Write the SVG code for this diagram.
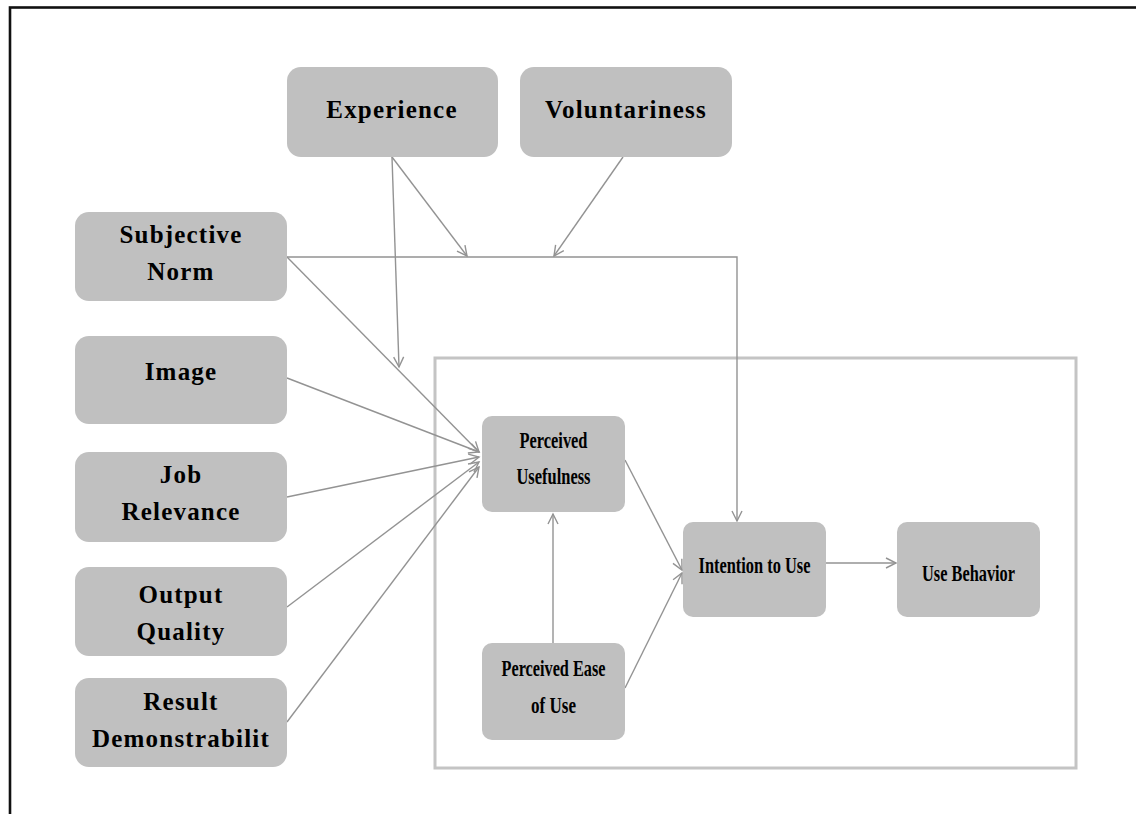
<svg xmlns="http://www.w3.org/2000/svg" width="1136" height="814" viewBox="0 0 1136 814">
<style>
.node rect{fill:#c0c0c0;stroke:none}
.big{font-family:"Liberation Serif","Times New Roman",serif;font-weight:bold;font-size:25px;letter-spacing:1.2px;fill:#000;text-anchor:middle}
.small{font-family:"Liberation Serif","Times New Roman",serif;font-weight:bold;font-size:24px;fill:#000;text-anchor:middle}
.conn path{fill:none;stroke:#939393;stroke-width:1.4}
</style>
<defs>
<marker id="arr" markerUnits="userSpaceOnUse" markerWidth="14" markerHeight="14" refX="11" refY="6" orient="auto">
<path d="M1,1 L11,6 L1,11" fill="none" stroke="#939393" stroke-width="1.4"/>
</marker>
</defs>
<rect x="0" y="0" width="1136" height="814" fill="#fff"/>
<rect x="10" y="7.5" width="1200" height="900" fill="none" stroke="#111" stroke-width="2.6"/>
<rect id="frame" x="435" y="358" width="641" height="410" fill="none" stroke="#c4c4c4" stroke-width="3"/>
<g id="connectors" class="conn">
<path d="M392,157 L399,367" marker-end="url(#arr)"/>
<path d="M392,157 L467,256" marker-end="url(#arr)"/>
<path d="M623,157 L554,256" marker-end="url(#arr)"/>
<path d="M287,257 L737,257 L737,521" marker-end="url(#arr)"/>
<path d="M287,257 L479,452" marker-end="url(#arr)"/>
<path d="M287,378 L479,452" marker-end="url(#arr)"/>
<path d="M287,497 L479,457" marker-end="url(#arr)"/>
<path d="M287,607 L479,462" marker-end="url(#arr)"/>
<path d="M287,722 L479,467" marker-end="url(#arr)"/>
<path d="M625,460 L682,570" marker-end="url(#arr)"/>
<path d="M625,688 L682,573" marker-end="url(#arr)"/>
<path d="M553,643 L553,514" marker-end="url(#arr)"/>
<path d="M826,563 L896,563" marker-end="url(#arr)"/>
</g>
<g id="experience" class="node"><rect x="287" y="67" width="211" height="90" rx="14"/><text class="big" x="392" y="118">Experience</text></g>
<g id="voluntariness" class="node"><rect x="520" y="67" width="212" height="90" rx="14"/><text class="big" x="626" y="118">Voluntariness</text></g>
<g id="subjective-norm" class="node"><rect x="75" y="212" width="212" height="89" rx="14"/><text class="big" x="181" y="243">Subjective</text><text class="big" x="181" y="280">Norm</text></g>
<g id="image" class="node"><rect x="75" y="336" width="212" height="88" rx="14"/><text class="big" x="181" y="380">Image</text></g>
<g id="job-relevance" class="node"><rect x="75" y="452" width="212" height="90" rx="14"/><text class="big" x="181" y="483">Job</text><text class="big" x="181" y="520">Relevance</text></g>
<g id="output-quality" class="node"><rect x="75" y="567" width="212" height="89" rx="14"/><text class="big" x="181" y="603">Output</text><text class="big" x="181" y="640">Quality</text></g>
<g id="result-demonstrability" class="node"><rect x="75" y="678" width="212" height="89" rx="14"/><text class="big" x="181" y="710">Result</text><text class="big" x="181" y="747">Demonstrabilit</text></g>
<g id="perceived-usefulness" class="node"><rect x="482" y="416" width="143" height="96" rx="10"/><text class="small" x="553.5" y="448" textLength="68" lengthAdjust="spacingAndGlyphs">Perceived</text><text class="small" x="553.5" y="484" textLength="74" lengthAdjust="spacingAndGlyphs">Usefulness</text></g>
<g id="perceived-ease-of-use" class="node"><rect x="482" y="643" width="143" height="97" rx="10"/><text class="small" x="553.5" y="676" textLength="104" lengthAdjust="spacingAndGlyphs">Perceived Ease</text><text class="small" x="553.5" y="713" textLength="45" lengthAdjust="spacingAndGlyphs">of Use</text></g>
<g id="intention-to-use" class="node"><rect x="683" y="522" width="143" height="95" rx="10"/><text class="small" x="754.5" y="573" textLength="112" lengthAdjust="spacingAndGlyphs">Intention to Use</text></g>
<g id="use-behavior" class="node"><rect x="897" y="522" width="143" height="95" rx="10"/><text class="small" x="968.5" y="581" textLength="93" lengthAdjust="spacingAndGlyphs">Use Behavior</text></g>
</svg>
